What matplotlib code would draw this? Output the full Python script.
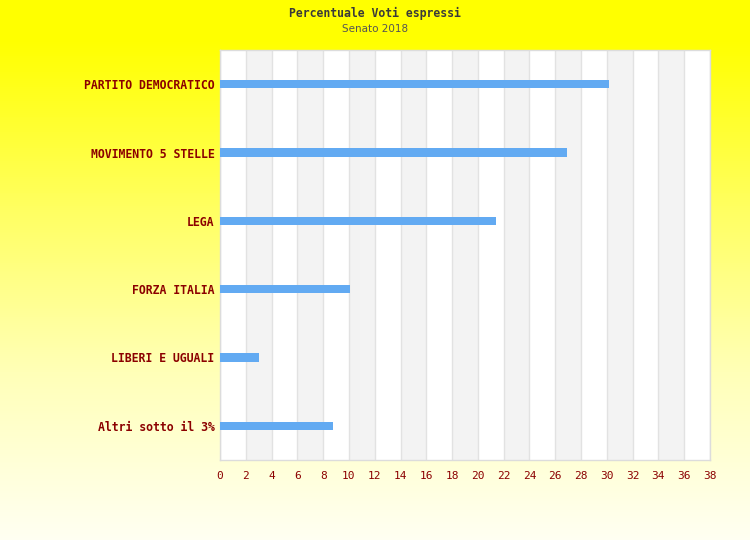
"""
Percentuale Voti espressi - Senato 2018
Horizontal bar chart on a yellow gradient background
"""

import matplotlib
matplotlib.use("Agg")
import matplotlib.pyplot as plt
import numpy as np
from matplotlib.colors import LinearSegmentedColormap

# ── Data ──
parties = [
    "PARTITO DEMOCRATICO",
    "MOVIMENTO 5 STELLE",
    "LEGA",
    "FORZA ITALIA",
    "LIBERI E UGUALI",
    "Altri sotto il 3%",
]
percentages = [30.15, 26.9, 21.4, 10.1, 3.05, 8.75]
x_ticks = list(range(0, 39, 2))

LABEL_RED = "#8b0000"
BAR_BLUE = "#62aaf2"

fig = plt.figure(figsize=(7.5, 5.4), dpi=100)

# ── gradient background ──
bg = fig.add_axes([0, 0, 1, 1], zorder=-10)
grad = np.concatenate([np.zeros(40), np.linspace(0, 1, 500)])[:, None]
cmap = LinearSegmentedColormap.from_list(
    "yel", ["#ffff00", "#ffff60", "#ffffb8", "#fffff2"])
bg.imshow(grad, aspect="auto", cmap=cmap, extent=[0, 1, 0, 1])
bg.set_axis_off()

# plot area: x 220..710, y 50..460 (of 750x540)
ax = fig.add_axes([220 / 750, 1 - 460 / 540, 490 / 750, 410 / 540])
ax.set_facecolor("white")

# alternating stripes
for i, x0 in enumerate(x_ticks[:-1]):
    if i % 2 == 1:
        ax.axvspan(x0, x0 + 2, color="#f3f3f3", zorder=0, lw=0)
for x0 in x_ticks:
    ax.axvline(x0, color="#e2e2e2", lw=1, zorder=1)

y = np.arange(len(parties))
ax.barh(y, percentages, height=0.125, color=BAR_BLUE, zorder=3)

ax.set_xlim(0, 38)
ax.set_ylim(len(parties) - 0.5, -0.5)
ax.set_xticks(x_ticks)
ax.set_xticklabels([str(t) for t in x_ticks], family="DejaVu Sans Mono",
                   fontsize=8, color=LABEL_RED)
ax.set_yticks(y)
ax.set_yticklabels(parties, family="DejaVu Sans Mono", fontweight="bold",
                   fontsize=8.3, color=LABEL_RED)
ax.tick_params(axis="both", length=0)
ax.tick_params(axis="x", pad=8)
ax.tick_params(axis="y", pad=4)
for spine in ax.spines.values():
    spine.set_edgecolor("#dcdcdc")
    spine.set_linewidth(1)

fig.text(0.5, 1 - 13 / 540, "Percentuale Voti espressi", ha="center", va="center",
         family="DejaVu Sans Mono", fontweight="bold", fontsize=8.3, color="#3a3a3a")
fig.text(0.5, 1 - 29 / 540, "Senato 2018", ha="center", va="center",
         family="DejaVu Sans", fontsize=7.5, color="#555555")

plt.savefig("out.png", dpi=100)
